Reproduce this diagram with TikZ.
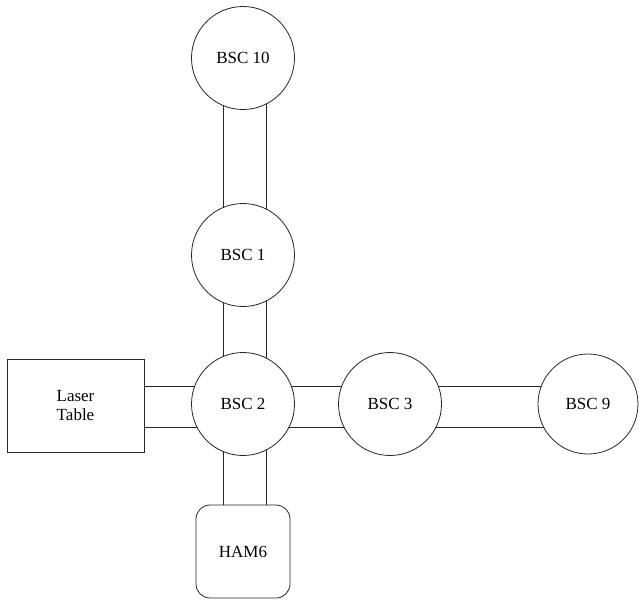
\documentclass[tikz,border=0pt]{standalone}
\usepackage{fontspec}
\setmainfont{Liberation Serif}
\newfontfamily\labelface{Liberation Serif}
\usetikzlibrary{backgrounds,calc}
\begin{document}
\begin{tikzpicture}[x=1pt,y=-1pt,
  lbl/.style={font=\labelface\fontsize{17}{19}\selectfont},
  chamber/.style={lbl, circle, draw=black!85, line width=0.8pt, fill=white, minimum size=103pt, inner sep=0pt},
  tablebox/.style={lbl, rectangle, draw=black!85, line width=0.8pt, fill=white, minimum width=137pt, minimum height=93pt, inner sep=0pt, align=center},
  hambox/.style={lbl, rectangle, rounded corners=14pt, draw=black!85, line width=0.8pt, fill=white, minimum width=94pt, minimum height=93pt, inner sep=0pt},
  tube/.style={draw=black!85, line width=0.8pt, fill=white}]
\useasboundingbox (0,0) rectangle (639,600);
\node[chamber] (b10) at (243,58) {BSC 10};
\node[chamber] (b1) at (243,255) {BSC 1};
\node[chamber] (b2) at (243,404) {BSC 2};
\node[chamber] (b3) at (390,404) {BSC 3};
\node[chamber, minimum size=100pt] (b9) at (588,404) {BSC 9};
\node[tablebox] (lt) at (75.5,405.5) {Laser\\Table};
\node[hambox] (ham) at (243,551.5) {HAM6};
\begin{scope}[on background layer]
  \fill[white] (0,0) rectangle (639,600);
  \draw[tube] ($(b10.center)+(-20,0)$) rectangle ($(b1.center)+(23,0)$);
  \draw[tube] ($(b1.center)+(-20,0)$) rectangle ($(b2.center)+(23,0)$);
  \draw[tube] ($(b2.center)+(-20,0)$) rectangle ($(ham.center)+(23,0)$);
  \draw[tube] ($(lt.center)+(0,-19)$) rectangle ($(b2.center)+(0,23)$);
  \draw[tube] ($(b2.center)+(0,-18)$) rectangle ($(b3.center)+(0,23)$);
  \draw[tube] ($(b3.center)+(0,-18)$) rectangle ($(b9.center)+(0,23)$);
\end{scope}
\end{tikzpicture}
\end{document}
